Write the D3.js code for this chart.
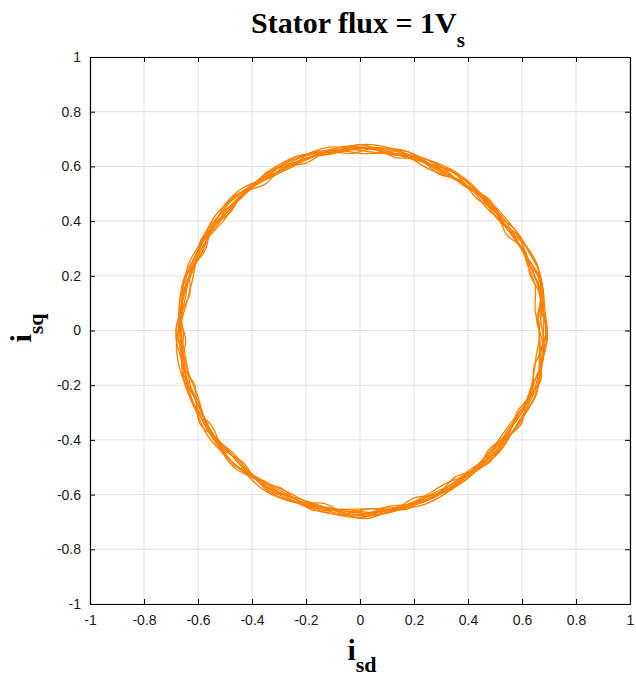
<!DOCTYPE html>
<html>
<head>
<meta charset="utf-8">
<script src="https://cdn.jsdelivr.net/npm/d3@7"></script>
<style>
  html, body { margin: 0; padding: 0; background: #fff; }
  svg { display: block; }
</style>
</head>
<body>
<svg id="chart" width="636" height="676"></svg>
<script>
// ---- data ----
const tickValues = [-1, -0.8, -0.6, -0.4, -0.2, 0, 0.2, 0.4, 0.6, 0.8, 1];
const tickLabels = ["-1", "-0.8", "-0.6", "-0.4", "-0.2", "0", "0.2", "0.4", "0.6", "0.8", "1"];
const angleStepDeg = 7.5; // sampling of each loop
const loopStartDeg = [0, 3.1, 5.6, 1.4, 4.3, 6.6, 2.2, 5.0, 0.7, 3.7]; // where each loop's samples begin
const loopShift = [0.006, -0.008, 0.011, -0.004, 0.002, -0.011, 0.008, -0.002, 0.004, -0.006]; // radial spread of the band
const loop1 = [0.684,0.668,0.690,0.662,0.676,0.652,0.672,0.654,0.670,0.652,0.672,0.656,0.674,0.654,0.670,0.650,0.668,0.654,0.674,0.652,0.670,0.656,0.672,0.658,0.676,0.656,0.672,0.654,0.678,0.656,0.676,0.656,0.672,0.652,0.674,0.658,0.680,0.656,0.670,0.650,0.668,0.652,0.674,0.658,0.682,0.664,0.688,0.666];
const loop2 = [0.664,0.688,0.670,0.686,0.654,0.674,0.656,0.672,0.650,0.672,0.654,0.674,0.656,0.672,0.652,0.670,0.648,0.670,0.654,0.672,0.652,0.674,0.652,0.676,0.654,0.678,0.652,0.674,0.658,0.676,0.656,0.676,0.654,0.674,0.654,0.678,0.660,0.676,0.652,0.670,0.650,0.672,0.654,0.676,0.662,0.684,0.666,0.686];
const loop3 = [0.678,0.684,0.688,0.676,0.668,0.664,0.660,0.668,0.664,0.656,0.666,0.670,0.662,0.660,0.668,0.664,0.656,0.662,0.670,0.664,0.658,0.668,0.666,0.660,0.672,0.670,0.660,0.666,0.672,0.664,0.662,0.672,0.668,0.658,0.666,0.672,0.666,0.660,0.668,0.664,0.654,0.664,0.670,0.664,0.676,0.680,0.674,0.684];
const loop4 = [0.670,0.688,0.680,0.672,0.672,0.656,0.670,0.658,0.666,0.662,0.660,0.672,0.668,0.658,0.664,0.656,0.664,0.668,0.660,0.658,0.670,0.660,0.668,0.672,0.658,0.672,0.668,0.656,0.670,0.670,0.658,0.668,0.674,0.660,0.660,0.674,0.676,0.656,0.666,0.668,0.660,0.656,0.672,0.672,0.664,0.682,0.684,0.672];
const loop5 = [0.684,0.676,0.696,0.684,0.660,0.670,0.664,0.656,0.670,0.668,0.652,0.664,0.674,0.664,0.656,0.668,0.664,0.652,0.666,0.672,0.660,0.656,0.672,0.670,0.662,0.660,0.674,0.668,0.660,0.672,0.672,0.658,0.662,0.672,0.664,0.660,0.674,0.670,0.656,0.660,0.670,0.666,0.656,0.676,0.680,0.668,0.680,0.690];
const loop6 = [0.664,0.680,0.676,0.692,0.670,0.660,0.672,0.664,0.654,0.668,0.666,0.658,0.672,0.670,0.660,0.660,0.668,0.666,0.656,0.668,0.668,0.658,0.662,0.676,0.666,0.664,0.658,0.670,0.674,0.660,0.672,0.664,0.660,0.670,0.672,0.664,0.666,0.672,0.662,0.654,0.668,0.668,0.662,0.664,0.678,0.676,0.670,0.676];
const loop7 = [0.680,0.670,0.690,0.680,0.676,0.654,0.662,0.670,0.662,0.664,0.670,0.662,0.658,0.672,0.666,0.662,0.652,0.670,0.672,0.656,0.664,0.672,0.656,0.664,0.674,0.662,0.670,0.662,0.664,0.668,0.676,0.660,0.670,0.662,0.670,0.670,0.680,0.662,0.660,0.658,0.664,0.662,0.668,0.668,0.670,0.686,0.676,0.678];
const loop8 = [0.672,0.694,0.684,0.668,0.662,0.672,0.668,0.660,0.660,0.672,0.660,0.668,0.664,0.668,0.672,0.656,0.660,0.664,0.664,0.662,0.654,0.666,0.670,0.664,0.664,0.676,0.664,0.660,0.666,0.660,0.666,0.670,0.664,0.666,0.660,0.668,0.670,0.666,0.672,0.662,0.658,0.670,0.664,0.660,0.674,0.672,0.688,0.682];
const loop9 = [0.676,0.682,0.692,0.670,0.664,0.668,0.658,0.666,0.668,0.658,0.662,0.668,0.666,0.662,0.664,0.670,0.660,0.658,0.668,0.666,0.662,0.664,0.670,0.662,0.668,0.664,0.662,0.672,0.664,0.666,0.670,0.662,0.666,0.668,0.662,0.670,0.672,0.664,0.662,0.666,0.660,0.658,0.666,0.670,0.672,0.678,0.682,0.676];
const loop10 = [0.668,0.690,0.682,0.678,0.666,0.660,0.668,0.662,0.658,0.666,0.664,0.660,0.670,0.662,0.668,0.660,0.666,0.664,0.662,0.670,0.656,0.668,0.664,0.668,0.670,0.662,0.666,0.664,0.670,0.662,0.668,0.666,0.662,0.668,0.668,0.662,0.672,0.668,0.664,0.660,0.666,0.664,0.660,0.668,0.676,0.674,0.686,0.674];
const loops = [loop1, loop2, loop3, loop4, loop5, loop6, loop7, loop8, loop9, loop10];

// ---- layout ----
const svg = d3.select("#chart");
const L = 90, R = 630, T = 57, B = 604;
const x = d3.scaleLinear().domain([-1, 1]).range([L, R]);
const y = d3.scaleLinear().domain([-1, 1]).range([B, T]);
const fmt = d => tickLabels[tickValues.indexOf(d)];

// grid
const grid = svg.append("g");
grid.selectAll("line.gx").data(tickValues).join("line")
  .attr("x1", d => x(d)).attr("x2", d => x(d)).attr("y1", T).attr("y2", B)
  .attr("stroke", "#e3e3e3").attr("stroke-width", 1);
grid.selectAll("line.gy").data(tickValues).join("line")
  .attr("y1", d => y(d)).attr("y2", d => y(d)).attr("x1", L).attr("x2", R)
  .attr("stroke", "#e3e3e3").attr("stroke-width", 1);

// trajectory
const line = d3.line().curve(d3.curveCatmullRomClosed.alpha(0.5))
  .x(p => x(p[0])).y(p => y(p[1]));
svg.append("g").selectAll("path").data(loops).join("path")
  .attr("d", (rs, k) => line(rs.map((r, i) => {
    const a = (loopStartDeg[k] + i * angleStepDeg) * Math.PI / 180;
    const rr = r + loopShift[k];
    return [rr * Math.cos(a), rr * Math.sin(a)];
  })))
  .attr("fill", "none").attr("stroke", "#ff8000").attr("stroke-width", 1.3);

// axes (inward ticks, boxed)
const axFont = "Liberation Sans, Arial, Helvetica, sans-serif";
function styleAxis(g, labels) {
  g.select(".domain").attr("stroke", "#000").attr("stroke-width", 1.2);
  g.selectAll(".tick line").attr("stroke", "#000").attr("stroke-width", 1);
  g.selectAll(".tick text").attr("font-family", axFont).attr("font-size", 14).attr("fill", "#1a1a1a");
  if (!labels) g.selectAll(".tick text").remove();
}
svg.append("g").attr("transform", `translate(0,${B})`)
  .call(d3.axisBottom(x).tickValues(tickValues).tickFormat(fmt).tickSize(-5).tickSizeOuter(0).tickPadding(11))
  .call(g => styleAxis(g, true));
svg.append("g").attr("transform", `translate(0,${T})`)
  .call(d3.axisTop(x).tickValues(tickValues).tickFormat(fmt).tickSize(-5).tickSizeOuter(0))
  .call(g => styleAxis(g, false));
svg.append("g").attr("transform", `translate(${L},0)`)
  .call(d3.axisLeft(y).tickValues(tickValues).tickFormat(fmt).tickSize(-5).tickSizeOuter(0).tickPadding(9))
  .call(g => styleAxis(g, true));
svg.append("g").attr("transform", `translate(${R},0)`)
  .call(d3.axisRight(y).tickValues(tickValues).tickFormat(fmt).tickSize(-5).tickSizeOuter(0))
  .call(g => styleAxis(g, false));

// title
const serif = "Liberation Serif, Times New Roman, serif";
const title = svg.append("text").attr("x", 358).attr("y", 33)
  .attr("text-anchor", "middle").attr("font-family", serif)
  .attr("font-weight", "bold").attr("font-size", 30).attr("fill", "#000");
title.append("tspan").text("Stator flux = 1V");
title.append("tspan").attr("dy", 14).attr("font-size", 21).text("s");

// x label
const xl = svg.append("text").attr("x", 362).attr("y", 660)
  .attr("text-anchor", "middle").attr("font-family", serif)
  .attr("font-weight", "bold").attr("font-size", 30).attr("fill", "#000");
xl.append("tspan").text("i");
xl.append("tspan").attr("dy", 12).attr("font-size", 22).text("sd");

// y label
const yl = svg.append("text").attr("transform", "translate(31,328) rotate(-90)")
  .attr("text-anchor", "middle").attr("font-family", serif)
  .attr("font-weight", "bold").attr("font-size", 30).attr("fill", "#000");
yl.append("tspan").text("i");
yl.append("tspan").attr("dy", 12).attr("font-size", 22).text("sq");
</script>
</body>
</html>
